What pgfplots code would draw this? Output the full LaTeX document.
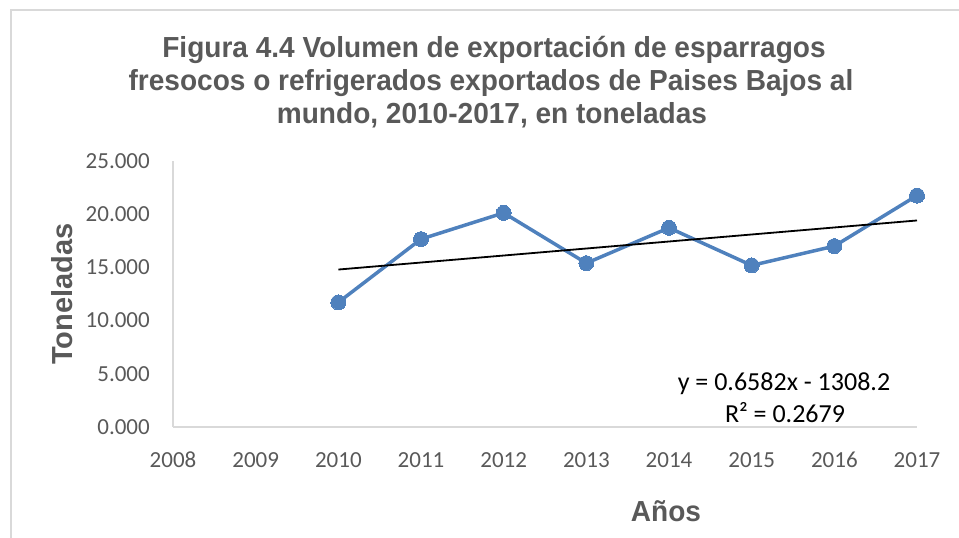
\documentclass[border=0pt]{standalone}
\usepackage{pgfplots}
\pgfplotsset{compat=1.18}
\usepackage{fontspec}
\setmainfont{Carlito}
\newfontfamily\arialb{Liberation Sans}
\definecolor{txt}{HTML}{595959}
\definecolor{ser}{HTML}{4F81BD}
\definecolor{frm}{HTML}{D9D9D9}
\begin{document}
\begin{tikzpicture}[x=1pt,y=1pt]
\useasboundingbox (0,0) rectangle (959,538);
\draw[frm, line width=1.5pt] (11,0) -- (11,528) -- (959,528);
\begin{axis}[
  at={(173pt,111pt)}, anchor=south west,
  scale only axis, width=744pt, height=266.3pt,
  xmin=2008, xmax=2017, ymin=0, ymax=25,
  axis x line*=bottom, axis y line*=left,
  axis line style={frm, line width=1.5pt},
  major tick length=0pt,
  xtick={2008,2009,2010,2011,2012,2013,2014,2015,2016,2017},
  xticklabels={2008,2009,2010,2011,2012,2013,2014,2015,2016,2017},
  ytick={0,5,10,15,20,25},
  yticklabels={0.000,5.000,10.000,15.000,20.000,25.000},
  tick label style={font=\fontsize{23}{23}\selectfont, text=txt},
  xticklabel style={anchor=center, inner sep=0pt, yshift=-33pt},
  yticklabel style={anchor=east, inner sep=0pt, xshift=-23pt},
  clip=false,
]
\addplot[ser, line width=3.5pt, mark=*, mark size=7.5pt, mark options={fill=ser, draw=ser, line width=0pt}]
  coordinates {(2010,11.70) (2011,17.64) (2012,20.10) (2013,15.38) (2014,18.70) (2015,15.17) (2016,16.98) (2017,21.73)};
\addplot[black, line width=1.8pt] coordinates {(2010,14.782) (2017,19.389)};
\end{axis}
\node[anchor=base, font=\fontsize{26}{26}\selectfont, text=black] at (784,147) {y = 0.6582x - 1308.2};
\node[anchor=base, font=\fontsize{26}{26}\selectfont, text=black] at (785,115) {R² = 0.2679};
\node[anchor=base, text=txt, font=\arialb\bfseries\fontsize{29}{29}\selectfont] at (494,480) {\scalebox{0.967}[1]{Figura 4.4 Volumen de exportación de esparragos}};
\node[anchor=base, text=txt, font=\arialb\bfseries\fontsize{29}{29}\selectfont] at (491,447) {\scalebox{0.967}[1]{fresocos o refrigerados exportados de Paises Bajos al}};
\node[anchor=base, text=txt, font=\arialb\bfseries\fontsize{29}{29}\selectfont] at (492,414) {\scalebox{0.967}[1]{mundo, 2010-2017, en toneladas}};
\node[anchor=base, text=txt, font=\arialb\bfseries\fontsize{29}{29}\selectfont] at (666,16) {\scalebox{0.967}[1]{Años}};
\node[anchor=base, rotate=90, text=txt, font=\arialb\bfseries\fontsize{29}{29}\selectfont] at (72,244) {Toneladas};
\end{tikzpicture}
\end{document}
